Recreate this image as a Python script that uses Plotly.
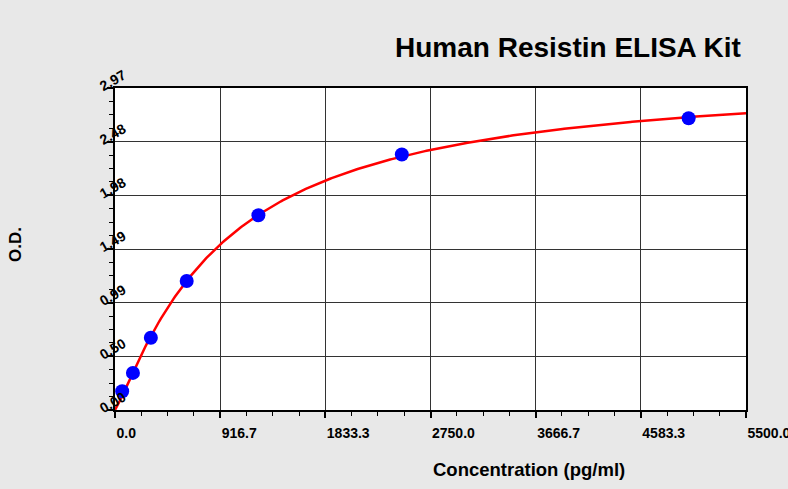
import numpy as np
import plotly.graph_objects as go

# ---- data ----
concentration = [62.5, 156.25, 312.5, 625, 1250, 2500, 5000]
od_values = [0.173, 0.342, 0.666, 1.19, 1.796, 2.357, 2.691]

x_tick_vals = [0.0, 916.7, 1833.3, 2750.0, 3666.7, 4583.3, 5500.0]
x_tick_text = ["0.0", "916.7", "1833.3", "2750.0", "3666.7", "4583.3", "5500.0"]
y_tick_vals = [0.0, 0.495, 0.99, 1.485, 1.98, 2.475, 2.97]
y_tick_text = ["0.00", "0.50", "0.99", "1.49", "1.98", "2.48", "2.97"]

title_text = "Human Resistin ELISA Kit"
x_title = "Concentration (pg/ml)"
y_title = "O.D."

# ---- fit a saturating (Hill-type) curve through the points ----
xs = np.array(concentration, dtype=float)
ys = np.array(od_values, dtype=float)
best = None
for b in np.linspace(0.8, 2.0, 121):
    for c in np.linspace(200, 4000, 381):
        g = xs**b / (c**b + xs**b)
        d = float(np.dot(g, ys) / np.dot(g, g))
        err = float(np.sum((d * g - ys) ** 2))
        if best is None or err < best[0]:
            best = (err, b, c, d)
_, fb, fc, fd = best
x_curve = np.linspace(0, 5500, 400)
y_curve = fd * x_curve**fb / (fc**fb + x_curve**fb)

fig = go.Figure()
fig.add_trace(go.Scatter(x=x_curve, y=y_curve, mode="lines",
                         line=dict(color="#ff0000", width=2.5),
                         hoverinfo="skip", showlegend=False))
fig.add_trace(go.Scatter(x=concentration, y=od_values, mode="markers",
                         marker=dict(color="#0000ff", size=14, line=dict(width=0)),
                         showlegend=False))

font_family = "Liberation Sans, Arial, sans-serif"
W, H = 788, 489
ML, MR, MT, MB = 115, 42, 88, 79
pw = W - ML - MR
ph = H - MT - MB


def px_to_paper(px, py):
    return (px - ML) / pw, (H - MB - py) / ph


tx, ty = px_to_paper(743, 48)
xx, xy = px_to_paper(529, 469)
yx, yy = px_to_paper(15, 245)

fig.update_layout(
    width=W, height=H,
    margin=dict(l=ML, r=MR, t=MT, b=MB, autoexpand=False),
    paper_bgcolor="#e8e8e8",
    plot_bgcolor="#ffffff",
    font=dict(family=font_family, color="#000000"),
    annotations=[
        dict(text="<b>%s</b>" % title_text, x=tx, y=ty, xref="paper", yref="paper",
             showarrow=False, xanchor="right", yanchor="middle",
             font=dict(size=28, family=font_family)),
        dict(text="<b>%s</b>" % x_title, x=xx, y=xy, xref="paper", yref="paper",
             showarrow=False, xanchor="center", yanchor="middle",
             font=dict(size=18.5, family=font_family)),
        dict(text="<b>%s</b>" % y_title, x=yx, y=yy, xref="paper", yref="paper",
             showarrow=False, textangle=-90, xanchor="center", yanchor="middle",
             font=dict(size=17, family=font_family)),
    ],
)

fig.update_xaxes(
    range=[0, 5500], tickmode="array", tickvals=x_tick_vals,
    ticktext=["<b>%s</b>" % t for t in x_tick_text],
    showgrid=True, gridcolor="#333333", gridwidth=1,
    showline=True, linecolor="#000000", linewidth=1.5, mirror=True,
    ticks="outside", ticklen=6, tickcolor="#000000", tickwidth=1.5,
    minor=dict(ticks="outside", ticklen=4, tickcolor="#000000", tickwidth=1,
               tickmode="linear", tick0=0, dtick=5500 / 24, showgrid=False),
    ticklabelposition="outside right",
    ticklabeloverflow="allow",
    ticklabelstandoff=9,
    tickfont=dict(size=14, family=font_family),
    zeroline=False,
)
fig.update_yaxes(
    range=[0, 2.97], tickmode="array", tickvals=y_tick_vals,
    ticktext=["<b>%s</b>" % t for t in y_tick_text],
    showgrid=True, gridcolor="#333333", gridwidth=1,
    showline=True, linecolor="#000000", linewidth=1.5, mirror=True,
    ticks="outside", ticklen=6, tickcolor="#000000", tickwidth=1.5,
    minor=dict(ticks="outside", ticklen=4, tickcolor="#000000", tickwidth=1,
               tickmode="linear", tick0=0, dtick=2.97 / 24, showgrid=False),
    tickangle=-30,
    ticklabelstandoff=-19,
    ticklabelshift=-14,
    ticklabeloverflow="allow",
    tickfont=dict(size=14, family=font_family),
    zeroline=False,
)

fig.write_html(
    "out.html",
    config={"displayModeBar": False},
    post_script="document.body.style.margin='0';document.body.style.background='#e8e8e8';",
)
